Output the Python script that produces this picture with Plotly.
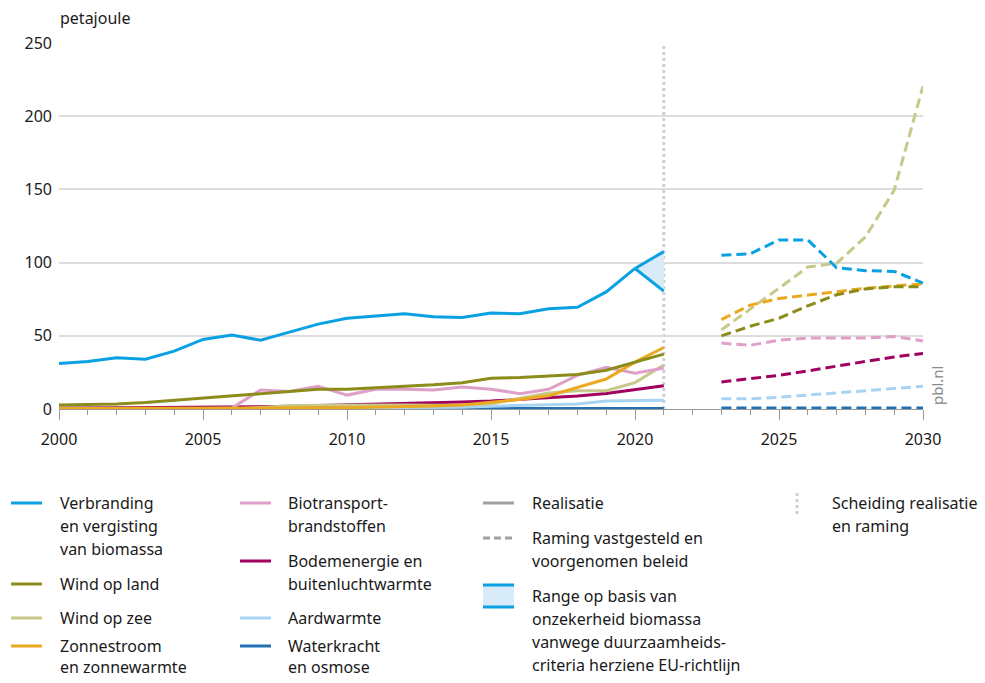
import plotly.graph_objects as go

# %% data (petajoule)
jaren_realisatie = list(range(2000, 2022))
jaren_raming = list(range(2023, 2031))

verbranding = [31, 32.5, 35, 34, 39.5, 47.5, 50.5, 47, 52.5, 58, 62, 63.5,
               65, 63, 62.5, 65.5, 65, 68.5, 69.5, 80, 96]
verbranding_range_jaren = [2020, 2021]
verbranding_hoog = [96, 107.5]
verbranding_laag = [96, 80.5]
wind_land = [2.7, 3, 3.5, 4.5, 6, 7, 8.5, 10, 12, 13.5, 13.5, 14.5, 15, 16.5,
             18, 21, 21.5, 22.5, 23.5, 26.5, 32, 37.5]
wind_zee = [0, 0, 0, 0, 0, 0, 0, 1, 2.2, 2.6, 2.8, 2.7, 2.8, 2.6, 2.7, 3.5,
            7.5, 11, 12.5, 12.5, 18, 30]
zon = [0.3, 0.3, 0.4, 0.4, 0.5, 0.5, 0.6, 0.6, 0.7, 0.8, 0.9, 1.1, 1.5, 2,
       2.8, 4.5, 6.5, 9, 14.5, 20.5, 32, 42]
biotransport = [0, 0, 0, 0, 0, 0.2, 0.6, 13, 12, 15.5, 9.5, 13.5, 13.5, 13,
                15, 13.5, 10.5, 13.5, 23, 28.5, 24.5, 28]
bodemenergie = [0.5, 0.6, 0.7, 0.8, 0.9, 1.1, 1.3, 1.6, 1.9, 2.3, 2.7, 3.1,
                3.6, 4.1, 4.7, 5.4, 6.5, 7.7, 8.9, 10.6, 13, 15.9]
aardwarmte = [0, 0, 0, 0, 0, 0, 0, 0, 0.1, 0.3, 0.5, 0.7, 0.8, 1, 1.2, 1.8,
              2.5, 3, 3.5, 5.5, 6, 6]
waterkracht = [0.5, 0.4, 0.4, 0.3, 0.4, 0.4, 0.4, 0.4, 0.4, 0.4, 0.4, 0.2,
               0.4, 0.4, 0.4, 0.3, 0.4, 0.2, 0.3, 0.3, 0.2, 0.3]

verbranding_r = [105, 106, 115.5, 115.5, 96.5, 94.5, 94, 86]
wind_land_r = [50, 56.5, 62, 70.5, 78, 82, 83.5, 83.5]
wind_zee_r = [54, 68, 82.5, 97, 99.5, 117.5, 149.5, 220.5]
zon_r = [61, 71, 75.5, 78, 80, 82.5, 84, 85.5]
biotransport_r = [45, 43.5, 47, 48.5, 48.5, 48.5, 49.5, 46.5]
bodemenergie_r = [18.5, 20.5, 23, 26, 29.5, 32.5, 35.5, 38]
aardwarmte_r = [7, 7, 8, 9.5, 11, 12.5, 14, 15.5]
waterkracht_r = [0.7, 0.7, 0.7, 0.7, 0.7, 0.7, 0.7, 0.7]

# %% styling
BLAUW = "#0AA1E2"
kleuren = {
    "wind_land": "#8B8C1A",
    "wind_zee": "#C8C88A",
    "zon": "#EAA91F",
    "bio": "#DE9FC9",
    "bodem": "#A0005F",
    "aard": "#A8D4F3",
    "water": "#2170B4",
}
STREEP = "10px,5px"
LW = 3

fig = go.Figure()

# range fill for biomass uncertainty
fig.add_trace(go.Scatter(x=verbranding_range_jaren, y=verbranding_hoog, mode="lines",
                         line=dict(color=BLAUW, width=LW), showlegend=False))
fig.add_trace(go.Scatter(x=verbranding_range_jaren, y=verbranding_laag, mode="lines",
                         line=dict(color=BLAUW, width=LW), fill="tonexty",
                         fillcolor="#D8EBF8", showlegend=False))

series = [
    (waterkracht, waterkracht_r, kleuren["water"]),
    (aardwarmte, aardwarmte_r, kleuren["aard"]),
    (bodemenergie, bodemenergie_r, kleuren["bodem"]),
    (wind_zee, wind_zee_r, kleuren["wind_zee"]),
    (biotransport, biotransport_r, kleuren["bio"]),
    (zon, zon_r, kleuren["zon"]),
    (wind_land, wind_land_r, kleuren["wind_land"]),
    (verbranding, verbranding_r, BLAUW),
]
for real, raming, kleur in series:
    fig.add_trace(go.Scatter(x=jaren_realisatie[:len(real)], y=real, mode="lines",
                             line=dict(color=kleur, width=LW), showlegend=False,
                             cliponaxis=False))
    fig.add_trace(go.Scatter(x=jaren_raming, y=raming, mode="lines",
                             line=dict(color=kleur, width=LW, dash=STREEP),
                             showlegend=False, cliponaxis=False))

# separation realisation / projection
fig.add_shape(type="line", xref="x", yref="y", x0=2021, x1=2021, y0=0, y1=250,
              line=dict(color="#D0D0D0", width=3, dash="dot"), layer="below")

# %% custom legend (pixel -> paper)
def px_x(p):
    return (p - 59) / 864


def px_y(p):
    return (409 - p) / 366


FONT = "Noto Sans"
TXT = "#1a1a1a"


def tekst(x, y, s, size=16, color=TXT, anker="middle"):
    fig.add_annotation(x=px_x(x), y=px_y(y), xref="paper", yref="paper", text=s,
                       showarrow=False, xanchor="left", yanchor=anker, borderpad=0,
                       align="left", font=dict(family=FONT, size=size, color=color))


def lijn(x0, x1, y, kleur, dash="solid"):
    fig.add_shape(type="line", xref="paper", yref="paper", x0=px_x(x0), x1=px_x(x1),
                  y0=px_y(y), y1=px_y(y), line=dict(color=kleur, width=LW, dash=dash))


legenda = [
    (11, 59, BLAUW, [503, 526, 549], ["Verbranding", "en vergisting", "van biomassa"]),
    (11, 59, kleuren["wind_land"], [584], ["Wind op land"]),
    (11, 59, kleuren["wind_zee"], [618], ["Wind op zee"]),
    (240, 287, kleuren["bio"], [503, 526], ["Biotransport-", "brandstoffen"]),
    (240, 287, kleuren["bodem"], [561, 584], ["Bodemenergie en", "buitenluchtwarmte"]),
    (240, 287, kleuren["aard"], [618], ["Aardwarmte"]),
]
for lx, tx, kleur, ys, regels in legenda:
    lijn(lx, lx + 31, ys[0], kleur)
    for y, s in zip(ys, regels):
        tekst(tx, y, s)

# bottom row: two-line blocks anchored at top to stay inside the page
lijn(11, 42, 646, kleuren["zon"])
tekst(59, 634, "Zonnestroom<br>en zonnewarmte", anker="top")
lijn(240, 271, 646, kleuren["water"])
tekst(287, 634, "Waterkracht<br>en osmose", anker="top")

lijn(483, 514, 503, "#A0A0A0")
tekst(531, 503, "Realisatie")
lijn(483, 514, 538, "#A0A0A0", dash="7px,4px")
tekst(531, 538, "Raming vastgesteld en")
tekst(531, 561, "voorgenomen beleid")
fig.add_shape(type="rect", xref="paper", yref="paper", x0=px_x(483), x1=px_x(514),
              y0=px_y(607), y1=px_y(585), fillcolor="#D8EBF8", line=dict(width=0))
lijn(483, 514, 585, BLAUW)
lijn(483, 514, 607, BLAUW)
for y, s in zip([596, 619, 642, 665], ["Range op basis van", "onzekerheid biomassa",
                                       "vanwege duurzaamheids-",
                                       "criteria herziene EU-richtlijn"]):
    tekst(531, y, s)
fig.add_shape(type="line", xref="paper", yref="paper", x0=px_x(797), x1=px_x(797),
              y0=px_y(493), y1=px_y(515), line=dict(color="#D0D0D0", width=3, dash="dot"))
tekst(831, 503, "Scheiding realisatie")
tekst(831, 526, "en raming")

tekst(59, 18, "petajoule")
fig.add_annotation(x=px_x(937), y=px_y(386), xref="paper", yref="paper", text="pbl.nl",
                   showarrow=False, textangle=-90, xanchor="center", yanchor="middle",
                   font=dict(family=FONT, size=15, color="#8a8a8a"))

# %% layout
fig.update_layout(
    width=985, height=683,
    margin=dict(l=59, r=62, t=43, b=274),
    plot_bgcolor="white", paper_bgcolor="white",
    font=dict(family=FONT, size=16, color=TXT),
    showlegend=False,
    xaxis=dict(range=[2000, 2030], tickvals=[2000, 2005, 2010, 2015, 2020, 2025, 2030],
               ticks="outside", ticklen=10, tickcolor="#999999", showgrid=False,
               showline=True, linecolor="#999999", linewidth=1, zeroline=False,
               layer="below traces",
               minor=dict(dtick=1, ticks="outside", ticklen=5, tickcolor="#999999"),
               tickfont=dict(size=16, color=TXT), ticklabelstandoff=6),
    yaxis=dict(range=[0, 250], tickvals=[0, 50, 100, 150, 200, 250], showgrid=True,
               gridcolor="#DDDDDD", gridwidth=1.5, zeroline=False, ticks="",
               layer="below traces",
               tickfont=dict(size=16, color=TXT), ticklabelstandoff=6),
)

fig.write_html("out.html", config={"displayModeBar": False},
               post_script="document.body.style.margin='0';")
